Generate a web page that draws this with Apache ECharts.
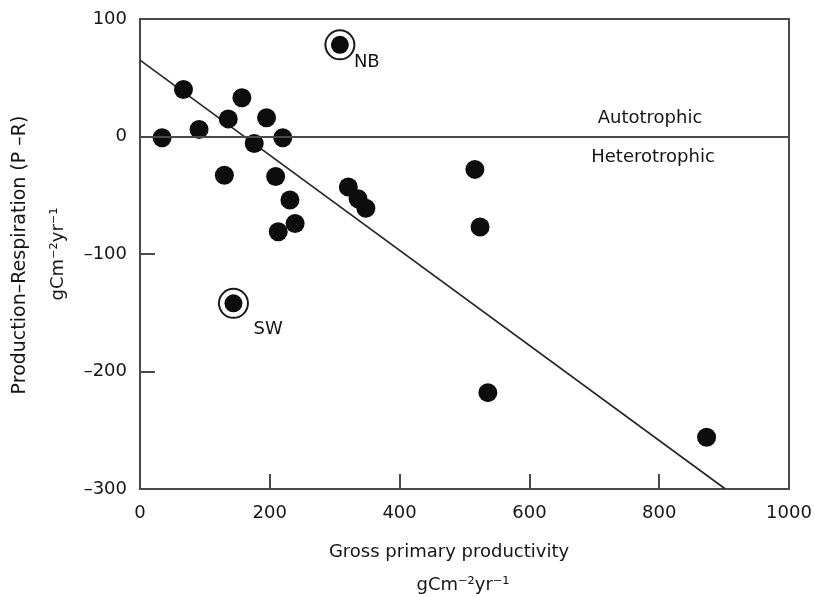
<!DOCTYPE html>
<html>
<head>
<meta charset="utf-8">
<script src="https://cdn.jsdelivr.net/npm/echarts@6/dist/echarts.min.js"></script>
<style>
html, body { margin: 0; padding: 0; background: #fff; }
#chart { width: 815px; height: 597px; }
</style>
</head>
<body>
<div id="chart"></div>
<script>
// Gross primary productivity vs. production minus respiration (gC m-2 yr-1)
const gppValues = [34, 67, 91, 136, 157, 195, 176, 220, 130, 209, 231, 239, 213, 321, 336, 348, 516, 524, 536, 873];
const pMinusR   = [-1, 40, 6, 15, 33, 16, -6, -1, -33, -34, -54, -74, -81, -43, -53, -61, -28, -77, -218, -256];

// Highlighted sites
const siteNames = ['NB', 'SW'];
const siteGpp   = [308, 144];
const sitePR    = [78, -142];

// Regression line end points
const fitGpp = [0, 902];
const fitPR  = [65, -300];

// Axis tick labels
const xTickLabels = ['0', '200', '400', '600', '800', '1000'];
const yTickLabels = ['–300', '–200', '–100', '0', '100'];

const FONT = 'DejaVu Sans';
const INK = '#151515';
const AXIS = '#4a4a4a';
const TEXT_FONT = '18px "DejaVu Sans"';

const chart = echarts.init(document.getElementById('chart'));

const labelPlacement = { NB: [23, 26], SW: [29, 35] };

chart.setOption({
  backgroundColor: '#ffffff',
  animation: false,
  grid: {
    left: 140, right: 26, top: 19, bottom: 108,
    show: true, borderColor: AXIS, borderWidth: 2, backgroundColor: 'transparent'
  },
  xAxis: {
    type: 'value', min: 0, max: 1000, interval: 200,
    axisLine: { show: true, onZero: false, lineStyle: { color: AXIS, width: 2 } },
    axisTick: { show: true, inside: true, length: 15, lineStyle: { color: AXIS, width: 2 } },
    splitLine: { show: false },
    axisLabel: {
      margin: 15, color: INK, fontFamily: FONT, fontSize: 18,
      formatter: (v) => xTickLabels[Math.round(v / 200)]
    }
  },
  yAxis: {
    type: 'value', min: -300, max: 100, interval: 100,
    axisLine: { show: true, onZero: false, lineStyle: { color: AXIS, width: 2 } },
    axisTick: { show: true, inside: true, length: 15, lineStyle: { color: AXIS, width: 2 } },
    splitLine: { show: false },
    axisLabel: {
      margin: 13, color: INK, fontFamily: FONT, fontSize: 18,
      formatter: (v) => yTickLabels[Math.round((v + 300) / 100)]
    }
  },
  series: [
    {
      // regression line, with the zero line as a mark line
      type: 'line',
      data: fitGpp.map((x, i) => [x, fitPR[i]]),
      symbol: 'none',
      lineStyle: { color: '#262626', width: 1.6 },
      silent: true,
      z: 1,
      markLine: {
        silent: true,
        symbol: 'none',
        label: { show: false },
        lineStyle: { color: AXIS, width: 2, type: 'solid' },
        data: [{ yAxis: 0 }]
      }
    },
    {
      type: 'scatter',
      data: gppValues.map((x, i) => [x, pMinusR[i]]),
      symbol: 'circle',
      symbolSize: 19,
      itemStyle: { color: '#0d0d0d', opacity: 1 },
      z: 3
    },
    {
      // rings around highlighted sites
      type: 'scatter',
      data: siteGpp.map((x, i) => [x, sitePR[i]]),
      symbol: 'circle',
      symbolSize: 29,
      itemStyle: { color: '#ffffff', borderColor: '#1a1a1a', borderWidth: 2, opacity: 1 },
      z: 3
    },
    {
      type: 'scatter',
      data: siteNames.map((n, i) => ({
        name: n,
        value: [siteGpp[i], sitePR[i]],
        label: { position: labelPlacement[n] }
      })),
      symbol: 'circle',
      symbolSize: 18,
      itemStyle: { color: '#0d0d0d', opacity: 1 },
      label: {
        show: true, formatter: '{b}', color: INK,
        fontFamily: FONT, fontSize: 18, verticalAlign: 'middle', align: 'left'
      },
      z: 4
    }
  ],
  graphic: [
    {
      type: 'text', x: 650, y: 118, z: 10,
      style: { text: 'Autotrophic', fill: INK, font: TEXT_FONT, align: 'center', verticalAlign: 'middle' }
    },
    {
      type: 'text', x: 653, y: 157, z: 10,
      style: { text: 'Heterotrophic', fill: INK, font: TEXT_FONT, align: 'center', verticalAlign: 'middle' }
    },
    {
      type: 'text', x: 449, y: 552, z: 10,
      style: { text: 'Gross primary productivity', fill: INK, font: TEXT_FONT, align: 'center', verticalAlign: 'middle' }
    },
    {
      type: 'text', x: 463, y: 585, z: 10,
      style: { text: 'gCm⁻²yr⁻¹', fill: INK, font: TEXT_FONT, align: 'center', verticalAlign: 'middle' }
    },
    {
      type: 'text', x: 20, y: 255, rotation: Math.PI / 2, z: 10,
      style: { text: 'Production–Respiration (P –R)', fill: INK, font: '19px "DejaVu Sans"', align: 'center', verticalAlign: 'middle' }
    },
    {
      type: 'text', x: 58, y: 254, rotation: Math.PI / 2, z: 10,
      style: { text: 'gCm⁻²yr⁻¹', fill: INK, font: TEXT_FONT, align: 'center', verticalAlign: 'middle' }
    }
  ]
});
</script>
</body>
</html>
